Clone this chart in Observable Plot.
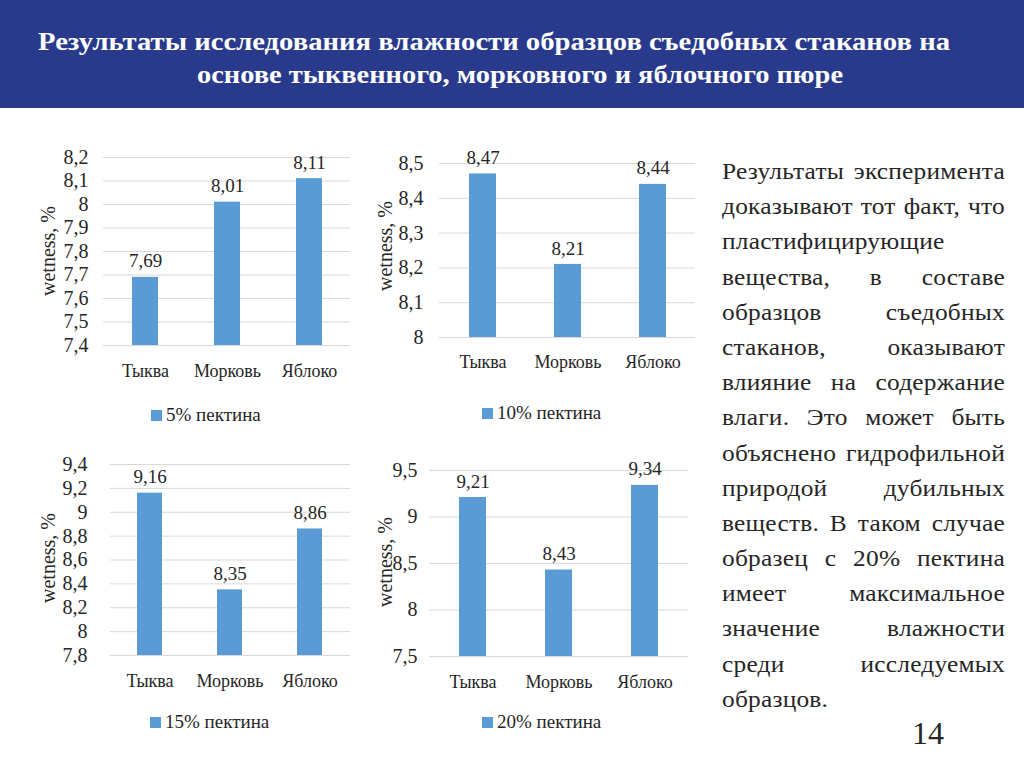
<!DOCTYPE html>
<html>
<head>
<meta charset="utf-8">
<script src="https://cdn.jsdelivr.net/npm/d3@7"></script>
<script src="https://cdn.jsdelivr.net/npm/@observablehq/plot@0.6"></script>
<style>
  html, body { margin: 0; padding: 0; background: #fff; }
  #page { position: relative; width: 1024px; height: 767px; overflow: hidden; font-family: "Liberation Serif", "DejaVu Serif", serif; color: #262626; }
  .abs { position: absolute; }
  .ylab { position: absolute; font-size: 20px; white-space: nowrap; transform: translate(-50%, -50%) rotate(-90deg); }
  .legend { position: absolute; font-size: 19px; white-space: nowrap; display: flex; align-items: center; transform: translateY(-50%); }
  .legend .sw { width: 11px; height: 11px; background: #5b9bd5; margin-right: 4px; }
  #para { position: absolute; left: 722px; top: 154px; width: 262px; font-size: 23.5px; letter-spacing: 0.2px; transform: scaleX(1.08); transform-origin: 0 0; }
  #para div { height: 35.2px; line-height: 35.2px; text-align: justify; text-align-last: justify; }
  #para div.l { text-align-last: left; }
</style>
</head>
<body>
<div id="page">
  <svg class="abs" style="left:0;top:0" width="1024" height="108">
    <rect x="0" y="0" width="1024" height="108" fill="#293a8c"></rect>
    <text x="38" y="49.5" fill="#fff" style="font-family:'Liberation Serif', 'DejaVu Serif', serif" font-weight="bold" font-size="25" textLength="912" lengthAdjust="spacingAndGlyphs">Результаты исследования влажности образцов  съедобных стаканов на</text>
    <text x="197" y="83" fill="#fff" style="font-family:'Liberation Serif', 'DejaVu Serif', serif" font-weight="bold" font-size="25" textLength="646" lengthAdjust="spacingAndGlyphs">основе тыквенного, морковного и яблочного пюре</text>
  </svg>
  <div id="para"></div>
  <div class="abs" style="left:912px;top:713px;font-size:32px;line-height:40px;">14</div>
</div>
<script>
// ---- data ----
const categories = ["Тыква", "Морковь", "Яблоко"];
const pectin5  = [7.69, 8.01, 8.11];
const pectin10 = [8.47, 8.21, 8.44];
const pectin15 = [9.16, 8.35, 8.86];
const pectin20 = [9.21, 8.43, 9.34];
const ticks5  = [7.4, 7.5, 7.6, 7.7, 7.8, 7.9, 8.0, 8.1, 8.2];
const ticks10 = [8.0, 8.1, 8.2, 8.3, 8.4, 8.5];
const ticks15 = [7.8, 8.0, 8.2, 8.4, 8.6, 8.8, 9.0, 9.2, 9.4];
const ticks20 = [7.5, 8.0, 8.5, 9.0, 9.5];
const legendLabels = ["5% пектина", "10% пектина", "15% пектина", "20% пектина"];
const yLabel = "wetness, %";
const paraLines = [
  "Результаты эксперимента",
  "доказывают тот факт, что",
  "пластифицирующие",
  "вещества, в составе",
  "образцов съедобных",
  "стаканов, оказывают",
  "влияние на содержание",
  "влаги. Это может быть",
  "объяснено гидрофильной",
  "природой дубильных",
  "веществ. В таком случае",
  "образец с 20% пектина",
  "имеет максимальное",
  "значение влажности",
  "среди исследуемых",
  "образцов."
];

const FONT = "'Liberation Serif', 'DejaVu Serif', serif";
const fmt = d => String(d).replace(".", ",");
const page = document.getElementById("page");

function makeChart(values, ticks, legend, cfg) {
  const rows = categories.map((c, i) => ({cat: c, v: values[i]}));
  const lo = ticks[0], hi = ticks[ticks.length - 1];
  const chart = Plot.plot({
    width: cfg.w, height: cfg.h,
    marginLeft: cfg.mL, marginRight: cfg.mR, marginTop: cfg.mT, marginBottom: cfg.mB,
    style: {fontFamily: FONT, color: "#262626", background: "transparent", overflow: "visible"},
    x: {domain: categories, paddingInner: 0.685, paddingOuter: 0.3425, align: 0.5},
    y: {domain: [lo, hi]},
    marks: [
      Plot.ruleY(ticks, {stroke: "#d9d9d9", strokeWidth: 1}),
      Plot.barY(rows, {x: "cat", y1: () => lo, y2: "v", fill: "#5b9bd5"}),
      Plot.text(rows, {x: "cat", y: "v", text: d => fmt(d.v), dy: -16, fontSize: 19, fill: "#262626"}),
      Plot.axisY({ticks: ticks, tickFormat: fmt, tickSize: 0, tickPadding: cfg.yp, fontSize: 20, label: null}),
      Plot.axisX({tickSize: 0, tickPadding: cfg.xp, fontSize: 18, label: null})
    ]
  });
  chart.style.position = "absolute";
  chart.style.left = cfg.left + "px";
  chart.style.top = cfg.top + "px";
  page.appendChild(chart);

  const yl = document.createElement("div");
  yl.className = "ylab";
  yl.style.left = cfg.ylx + "px";
  yl.style.top = cfg.yly + "px";
  yl.textContent = yLabel;
  page.appendChild(yl);

  const lg = document.createElement("div");
  lg.className = "legend";
  lg.style.left = cfg.lgx + "px";
  lg.style.top = cfg.lgy + "px";
  lg.innerHTML = '<span class="sw"></span><span></span>';
  lg.lastChild.textContent = legend;
  page.appendChild(lg);
}

makeChart(pectin5, ticks5, legendLabels[0],
  {left: 30, top: 140, w: 330, h: 240, mL: 73, mR: 10, mT: 17, mB: 35, yp: 15, xp: 19, ylx: 48, yly: 251, lgx: 151, lgy: 415});
makeChart(pectin10, ticks10, legendLabels[1],
  {left: 370, top: 140, w: 335, h: 240, mL: 69, mR: 10, mT: 23, mB: 43, yp: 16, xp: 18, ylx: 385, yly: 246, lgx: 482, lgy: 413});
makeChart(pectin15, ticks15, legendLabels[2],
  {left: 30, top: 450, w: 330, h: 240, mL: 80, mR: 10, mT: 14, mB: 35, yp: 23, xp: 19, ylx: 48, yly: 558, lgx: 150, lgy: 722});
makeChart(pectin20, ticks20, legendLabels[3],
  {left: 370, top: 450, w: 335, h: 240, mL: 59, mR: 17, mT: 20, mB: 34, yp: 12, xp: 19, ylx: 385, yly: 562, lgx: 482, lgy: 722});

const para = document.getElementById("para");
paraLines.forEach((t, i) => {
  const d = document.createElement("div");
  if (i === 2 || i === paraLines.length - 1) d.className = "l";
  d.textContent = t;
  para.appendChild(d);
});
</script>
</body>
</html>
